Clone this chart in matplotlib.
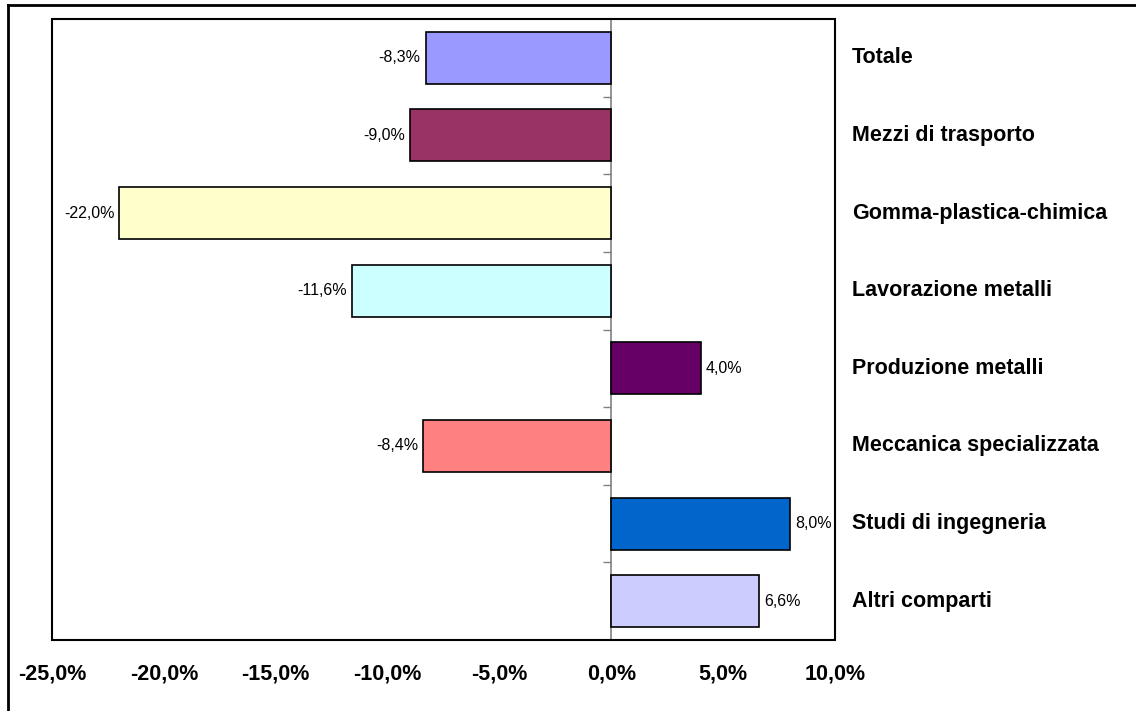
import matplotlib
matplotlib.use("Agg")
import matplotlib.pyplot as plt
from matplotlib.patches import Rectangle
from matplotlib.lines import Line2D
import matplotlib.transforms as mtransforms

plt.rcParams['font.family'] = ['Liberation Sans', 'DejaVu Sans']

categories = ["Totale", "Mezzi di trasporto", "Gomma-plastica-chimica",
              "Lavorazione metalli", "Produzione metalli",
              "Meccanica specializzata", "Studi di ingegneria", "Altri comparti"]
values = [-8.3, -9.0, -22.0, -11.6, 4.0, -8.4, 8.0, 6.6]
colors = ["#9999FF", "#993366", "#FFFFCC", "#CCFFFF", "#660066",
          "#FF8080", "#0066CC", "#CCCCFF"]
xticks = [-25, -20, -15, -10, -5, 0, 5, 10]
xtick_labels = ["-25,0%", "-20,0%", "-15,0%", "-10,0%", "-5,0%", "0,0%", "5,0%", "10,0%"]

fig = plt.figure(figsize=(11.36, 7.11), dpi=100)
ax = fig.add_axes([52/1136, 1 - 640/711, (835-52)/1136, (640-19)/711])

n = len(categories)
ypos = list(range(n - 1, -1, -1))
bars = ax.barh(ypos, values, height=0.67, color=colors, edgecolor="black", linewidth=1.2, zorder=3)

labels = [("%.1f%%" % v).replace(".", ",") for v in values]
ax.bar_label(bars, labels=labels, padding=3.5, fontsize=11.5)

ax.set_xlim(-25, 10)
ax.set_ylim(-0.5, n - 0.5)

ax.set_xticks(xticks)
ax.set_xticklabels(xtick_labels, fontsize=15.5, fontweight="bold")
ax.tick_params(axis="x", length=0, pad=17)

# y axis at zero, ticks at category boundaries
for s in ["top", "right", "bottom"]:
    ax.spines[s].set_visible(False)
ax.spines["left"].set_position(("data", 0))
ax.spines["left"].set_color("#808080")
ax.spines["left"].set_linewidth(1.2)
ax.set_yticks([i + 0.5 for i in range(n - 1)])
ax.set_yticklabels([])
ax.tick_params(axis="y", direction="out", length=6, color="#808080", width=1.0)

# plot area border
ax.add_patch(Rectangle((0, 0), 1, 1, transform=ax.transAxes, fill=False,
                       edgecolor="black", linewidth=1.5, clip_on=False, zorder=5))

# category labels on the right
trans = mtransforms.blended_transform_factory(fig.transFigure, ax.transData)
for y, c in zip(ypos, categories):
    ax.text(852/1136, y, c, transform=trans, ha="left", va="center",
            fontsize=15.5, fontweight="bold")

# outer chart border (top and left)
fig.add_artist(Line2D([8/1136, 8/1136], [0, 1 - 5/711], transform=fig.transFigure,
                      color="black", linewidth=2))
fig.add_artist(Line2D([8/1136, 1], [1 - 5/711, 1 - 5/711], transform=fig.transFigure,
                      color="black", linewidth=2))

fig.savefig("out.png", dpi=100)
